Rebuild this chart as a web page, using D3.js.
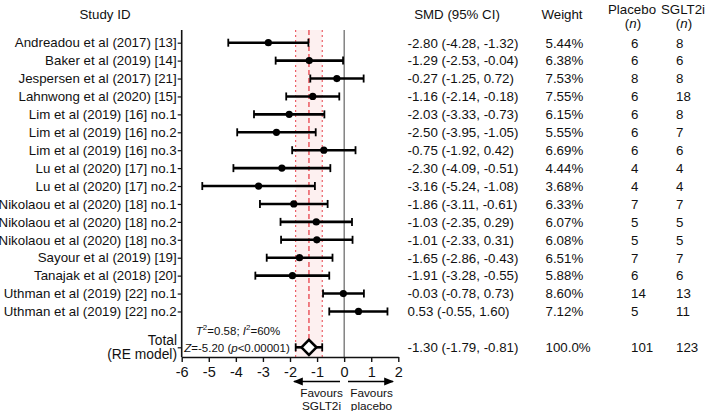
<!DOCTYPE html>
<html><head><meta charset="utf-8">
<script src="https://cdn.jsdelivr.net/npm/d3@7"></script>
<style>
body{margin:0;background:#fff;}
svg text{font-family:"Liberation Sans",Arial,sans-serif;fill:#111;}
</style></head>
<body><svg id="c" width="708" height="411"></svg>
<script>
const studies = ["Andreadou et al (2017) [13]","Baker et al (2019) [14]","Jespersen et al (2017) [21]","Lahnwong et al (2020) [15]","Lim et al (2019) [16] no.1","Lim et al (2019) [16] no.2","Lim et al (2019) [16] no.3","Lu et al (2020) [17] no.1","Lu et al (2020) [17] no.2","Nikolaou et al (2020) [18] no.1","Nikolaou et al (2020) [18] no.2","Nikolaou et al (2020) [18] no.3","Sayour et al (2019) [19]","Tanajak et al (2018) [20]","Uthman et al (2019) [22] no.1","Uthman et al (2019) [22] no.2"];
const smd   = [-2.80,-1.29,-0.27,-1.16,-2.03,-2.50,-0.75,-2.30,-3.16,-1.86,-1.03,-1.01,-1.65,-1.91,-0.03,0.53];
const lower = [-4.28,-2.53,-1.25,-2.14,-3.33,-3.95,-1.92,-4.09,-5.24,-3.11,-2.35,-2.33,-2.86,-3.28,-0.78,-0.55];
const upper = [-1.32,-0.04,0.72,-0.18,-0.73,-1.05,0.42,-0.51,-1.08,-0.61,0.29,0.31,-0.43,-0.55,0.73,1.60];
const weight = ["5.44%","6.38%","7.53%","7.55%","6.15%","5.55%","6.69%","4.44%","3.68%","6.33%","6.07%","6.08%","6.51%","5.88%","8.60%","7.12%"];
const nPlacebo = [6,6,8,6,6,6,6,4,4,7,5,5,7,6,14,5];
const nSGLT2i  = [8,6,8,18,8,7,6,4,4,7,5,5,7,6,13,11];
const total = {smd:-1.30, lower:-1.79, upper:-0.81, weight:"100.0%", placebo:101, sglt2i:123};
const xTicks = [-6,-5,-4,-3,-2,-1,0,1,2];

const svg = d3.select("#c");
const x = d3.scaleLinear().domain([-6,2]).range([181.7,398.3]);
const totalRow = studies.length + 1;
const y = d3.scaleLinear().domain([0,totalRow]).range([42.7,347.3]);
const yTop = 30, axisY = 357;
const fmt = v => v.toFixed(2);
const FS = 13.3;

// pink band
svg.append("rect").attr("x",x(total.lower)).attr("y",yTop)
  .attr("width",x(total.upper)-x(total.lower)).attr("height",axisY-yTop)
  .attr("fill","#fdf0f0");
// red lines
[total.lower,total.upper].forEach(v=>{
  svg.append("line").attr("x1",x(v)).attr("x2",x(v)).attr("y1",yTop).attr("y2",axisY)
    .attr("stroke","#e8414a").attr("stroke-width",1).attr("stroke-dasharray","2,3");
});
svg.append("line").attr("x1",x(total.smd)).attr("x2",x(total.smd)).attr("y1",yTop).attr("y2",axisY)
  .attr("stroke","#e8414a").attr("stroke-width",1.3).attr("stroke-dasharray","5,3");
// zero line
svg.append("line").attr("x1",x(0)).attr("x2",x(0)).attr("y1",yTop).attr("y2",axisY)
  .attr("stroke","#444").attr("stroke-width",1);

// x axis
const xa = svg.append("g").attr("transform",`translate(0,${axisY})`)
  .call(d3.axisBottom(x).tickValues(xTicks).tickSize(5).tickSizeOuter(0).tickFormat(d=>String(d)));
xa.select(".domain").attr("stroke","#111").attr("stroke-width",1.6);
xa.selectAll(".tick line").attr("stroke","#111").attr("stroke-width",1.4);
xa.selectAll(".tick text").attr("font-size",14.5).attr("y",8).attr("dy","0.8em").attr("fill","#111")
  .style("font-family","Liberation Sans, Arial, sans-serif");

// y axis
const rows = d3.range(studies.length).concat([totalRow]);
const ya = svg.append("g").attr("transform","translate(181.7,0)")
  .call(d3.axisLeft(y).tickValues(rows).tickSize(4).tickSizeOuter(0).tickFormat(d=> d<studies.length?studies[d]:""));
ya.select(".domain").attr("d",`M0,${yTop}V${axisY}`).attr("stroke","#111").attr("stroke-width",1.6);
ya.selectAll(".tick line").attr("stroke","#111").attr("stroke-width",1.2);
ya.selectAll(".tick text").attr("font-size",FS).attr("x",-5).attr("fill","#111")
  .style("font-family","Liberation Sans, Arial, sans-serif");
const tl = svg.append("text").attr("text-anchor","end").attr("font-size",FS+0.5);
tl.append("tspan").attr("x",177).attr("y",y(totalRow)-2.5).text("Total");
tl.append("tspan").attr("x",177).attr("y",y(totalRow)+12).text("(RE model)");

// study CIs
const g = svg.append("g");
studies.forEach((s,i)=>{
  const yy=y(i);
  g.append("line").attr("x1",x(lower[i])).attr("x2",x(upper[i])).attr("y1",yy).attr("y2",yy)
    .attr("stroke","#000").attr("stroke-width",2.6);
  [lower[i],upper[i]].forEach(v=>g.append("line").attr("x1",x(v)).attr("x2",x(v))
    .attr("y1",yy-4).attr("y2",yy+4).attr("stroke","#000").attr("stroke-width",1.8));
  g.append("circle").attr("cx",x(smd[i])).attr("cy",yy).attr("r",3.6).attr("fill","#000");
});
// total
const ty=y(totalRow);
g.append("line").attr("x1",x(total.lower)).attr("x2",x(total.upper)).attr("y1",ty).attr("y2",ty)
  .attr("stroke","#000").attr("stroke-width",2.6);
[total.lower,total.upper].forEach(v=>g.append("line").attr("x1",x(v)).attr("x2",x(v))
  .attr("y1",ty-4).attr("y2",ty+4).attr("stroke","#000").attr("stroke-width",1.8));
const cx=x(total.smd), h=7.5;
g.append("path").attr("d",`M${cx-h},${ty}L${cx},${ty-h}L${cx+h},${ty}L${cx},${ty+h}Z`)
  .attr("fill","#fff").attr("stroke","#000").attr("stroke-width",2.6);

// annotations
const a1 = svg.append("text").attr("x",238).attr("y",335).attr("text-anchor","middle").attr("font-size",11.5);
a1.append("tspan").attr("font-style","italic").text("T");
a1.append("tspan").attr("font-size",8).attr("dy",-5).text("2");
a1.append("tspan").attr("dy",5).text("=0.58; ");
a1.append("tspan").attr("font-style","italic").text("I");
a1.append("tspan").attr("font-size",8).attr("dy",-5).text("2");
a1.append("tspan").attr("dy",5).text("=60%");
const a2 = svg.append("text").attr("x",237).attr("y",352).attr("text-anchor","middle").attr("font-size",11.5);
a2.append("tspan").attr("font-style","italic").text("Z");
a2.append("tspan").text("=-5.20 (");
a2.append("tspan").attr("font-style","italic").text("p");
a2.append("tspan").text("<0.00001)");

// arrows
const defs = svg.append("defs");
defs.append("marker").attr("id","ah").attr("viewBox","0 0 10 10").attr("refX",9).attr("refY",5)
  .attr("markerWidth",7).attr("markerHeight",7).attr("orient","auto-start-reverse")
  .append("path").attr("d","M0,1L10,5L0,9Z").attr("fill","#000");
svg.append("line").attr("x1",340).attr("x2",294).attr("y1",381.5).attr("y2",381.5)
  .attr("stroke","#000").attr("stroke-width",1.4).attr("marker-end","url(#ah)");
svg.append("line").attr("x1",348).attr("x2",393).attr("y1",381.5).attr("y2",381.5)
  .attr("stroke","#000").attr("stroke-width",1.4).attr("marker-end","url(#ah)");
[["Favours","SGLT2i",321.5],["Favours","placebo",371.5]].forEach(([l1,l2,xx])=>{
  svg.append("text").attr("x",xx).attr("y",396.5).attr("text-anchor","middle").attr("font-size",11.8).text(l1);
  svg.append("text").attr("x",xx).attr("y",409.5).attr("text-anchor","middle").attr("font-size",11.8).text(l2);
});

// headers
svg.append("text").attr("x",105).attr("y",19).attr("text-anchor","middle").attr("font-size",FS).text("Study ID");
svg.append("text").attr("x",457).attr("y",19).attr("text-anchor","middle").attr("font-size",FS).text("SMD (95% CI)");
svg.append("text").attr("x",562).attr("y",19).attr("text-anchor","middle").attr("font-size",FS).text("Weight");
svg.append("text").attr("x",632).attr("y",14).attr("text-anchor","middle").attr("font-size",FS).text("Placebo");
svg.append("text").attr("x",683).attr("y",14).attr("text-anchor","middle").attr("font-size",FS).text("SGLT2i");
[633,684].forEach(xx=>{
  const t=svg.append("text").attr("x",xx).attr("y",28).attr("text-anchor","middle").attr("font-size",FS);
  t.append("tspan").text("(");
  t.append("tspan").attr("font-style","italic").text("n");
  t.append("tspan").text(")");
});

// columns
const cols = svg.append("g").attr("font-size",FS);
const allRows = studies.map((s,i)=>({r:i, ci:`${fmt(smd[i])} (${fmt(lower[i])}, ${fmt(upper[i])})`, w:weight[i], p:nPlacebo[i], s:nSGLT2i[i]}))
  .concat([{r:totalRow, ci:`${fmt(total.smd)} (${fmt(total.lower)}, ${fmt(total.upper)})`, w:total.weight, p:total.placebo, s:total.sglt2i}]);
allRows.forEach(d=>{
  const yy=y(d.r)+4.8;
  cols.append("text").attr("x",407.5).attr("y",yy).text(d.ci);
  cols.append("text").attr("x",545.5).attr("y",yy).text(d.w);
  cols.append("text").attr("x",631).attr("y",yy).text(d.p);
  cols.append("text").attr("x",676).attr("y",yy).text(d.s);
});
</script></body></html>
